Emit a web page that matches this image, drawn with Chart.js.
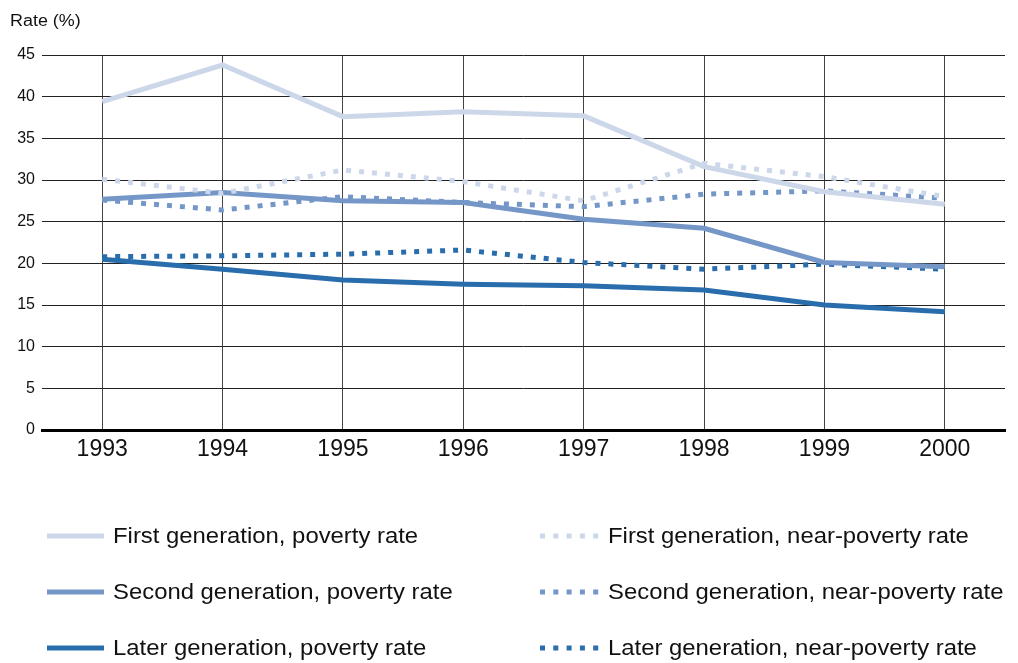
<!DOCTYPE html>
<html lang="en">
  <head>
    <meta charset="UTF-8" />
    <title>Poverty and near-poverty rates by generation</title>
    <style>
      * {
        margin: 0;
        padding: 0;
        box-sizing: border-box;
      }
      body {
        background: white;
      }
      .chartBox {
        width: 1018px;
        height: 663px;
      }
    </style>
  </head>
  <body>
    <div class="chartBox">
      <canvas id="myChart"></canvas>
    </div>

    <script src="https://cdn.jsdelivr.net/npm/chart.js"></script>

    <script>
      const years = ["1993", "1994", "1995", "1996", "1997", "1998", "1999", "2000"];
      const yTicks = [0, 5, 10, 15, 20, 25, 30, 35, 40, 45];

      const firstPoverty = [39.4, 43.8, 37.6, 38.2, 37.7, 31.6, 28.6, 27.1];
      const firstNear = [30.1, 28.4, 31.2, 29.8, 27.5, 32.0, 30.4, 28.0];
      const secondPoverty = [27.7, 28.5, 27.5, 27.3, 25.3, 24.2, 20.1, 19.6];
      const secondNear = [27.6, 26.4, 28.0, 27.3, 26.8, 28.3, 28.7, 27.8];
      const laterPoverty = [20.5, 19.3, 18.0, 17.5, 17.3, 16.8, 15.0, 14.2];
      const laterNear = [20.8, 20.9, 21.1, 21.6, 20.1, 19.3, 19.9, 19.3];

      const light = "#cdd7ea";
      const mid = "#7597c8";
      const dark = "#2a6dad";
      const font = "'Liberation Sans', Arial, sans-serif";
      const dots = [5, 8];

      function line(label, values, color, dashed) {
        return {
          label: label,
          data: values,
          borderColor: color,
          backgroundColor: color,
          borderWidth: 5,
          borderDash: dashed ? dots : [],
          borderCapStyle: "butt",
          pointRadius: 0,
          tension: 0,
          dashed: dashed,
        };
      }

      // dark lines drawn last, on top
      const datasets = [
        line("First generation, poverty rate", firstPoverty, light, false),
        line("First generation, near-poverty rate", firstNear, light, true),
        line("Second generation, poverty rate", secondPoverty, mid, false),
        line("Second generation, near-poverty rate", secondNear, mid, true),
        line("Later generation, poverty rate", laterPoverty, dark, false),
        line("Later generation, near-poverty rate", laterNear, dark, true),
      ];

      // the original text is a little wider than Arial, stretch it slightly
      function wideText(ctx, text, x, y, stretch) {
        ctx.save();
        ctx.translate(x, y);
        ctx.scale(stretch, 1);
        ctx.fillText(text, 0, 0);
        ctx.restore();
      }

      const titleAndLegend = {
        id: "titleAndLegend",
        afterDraw(chart) {
          const { ctx } = chart;
          ctx.save();
          ctx.fillStyle = "#111";
          ctx.font = "16px " + font;
          ctx.textAlign = "left";
          ctx.textBaseline = "middle";
          wideText(ctx, "Rate (%)", 10, 22, 1.12);

          const rowsY = [536, 592, 648];
          const cols = [
            { x0: 47, x1: 104, tx: 113 },
            { x0: 540, x1: 600, tx: 608 },
          ];
          chart.data.datasets.forEach((ds, i) => {
            const col = cols[ds.dashed ? 1 : 0];
            const y = rowsY[Math.floor(i / 2)];
            ctx.beginPath();
            ctx.strokeStyle = ds.borderColor;
            ctx.lineWidth = 5;
            ctx.lineCap = "butt";
            ctx.setLineDash(ds.dashed ? [5, 8.3] : []);
            ctx.moveTo(col.x0, y);
            ctx.lineTo(col.x1, y);
            ctx.stroke();
            ctx.setLineDash([]);
            ctx.fillStyle = "#111";
            ctx.font = "22px " + font;
            wideText(ctx, ds.label, col.tx, y + 1, 1.085);
          });
          ctx.restore();
        },
      };

      const config = {
        type: "line",
        data: { labels: years, datasets: datasets },
        options: {
          responsive: true,
          maintainAspectRatio: false,
          animation: false,
          layout: {
            padding: { top: 55, right: 13, bottom: 193, left: 0 },
          },
          plugins: {
            legend: { display: false },
            tooltip: { enabled: false },
          },
          scales: {
            x: {
              offset: true,
              grid: {
                offset: false,
                color: "#444",
                lineWidth: 1,
                drawTicks: false,
              },
              border: { display: true, color: "#000", width: 3 },
              ticks: {
                color: "#111",
                font: { family: font, size: 23 },
                padding: 6,
                maxRotation: 0,
              },
              afterFit(scale) {
                scale.height = 40;
              },
            },
            y: {
              min: 0,
              max: 45,
              afterBuildTicks(scale) {
                scale.ticks = yTicks.map((v) => ({ value: v }));
              },
              grid: {
                color: "#222",
                lineWidth: 1,
                drawTicks: false,
              },
              border: { display: false },
              ticks: {
                color: "#111",
                font: { family: font, size: 16 },
                padding: 7,
              },
              afterFit(scale) {
                scale.width = 42;
              },
            },
          },
        },
        plugins: [titleAndLegend],
      };

      const myChart = new Chart(document.getElementById("myChart"), config);
    </script>
  </body>
</html>
